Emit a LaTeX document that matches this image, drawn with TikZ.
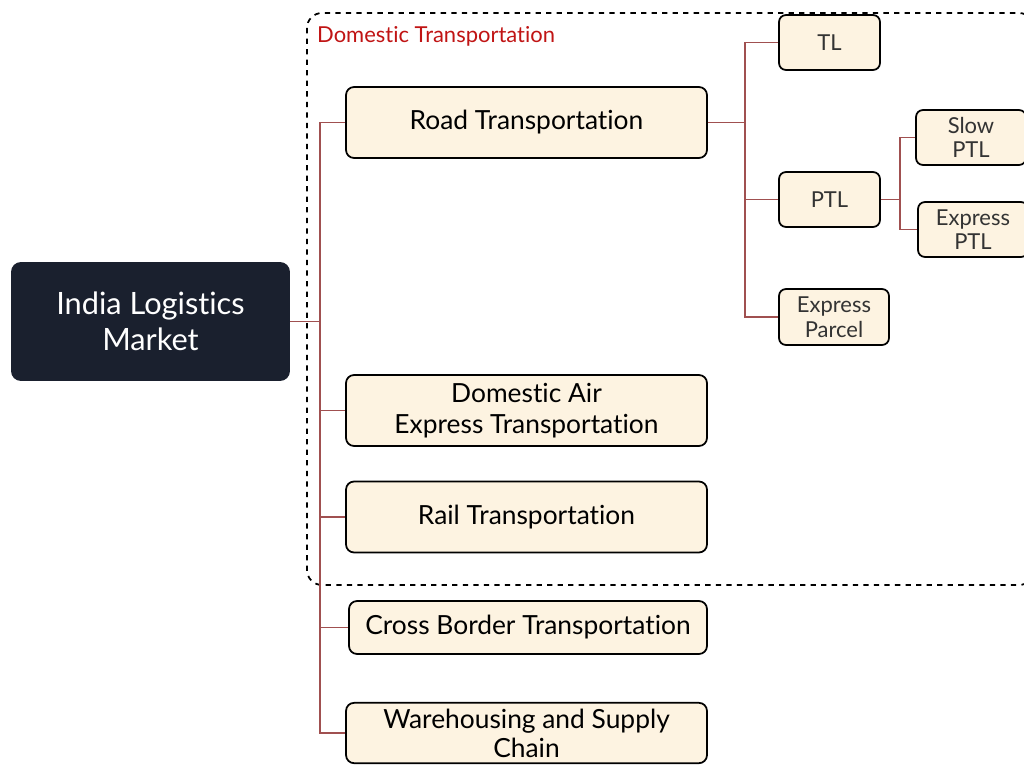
\documentclass[tikz,border=0pt]{standalone}
\usepackage{fontspec}
\setmainfont{Lato}[Ligatures=NoCommon]
\usepackage{tikz}
\usetikzlibrary{positioning}

\definecolor{rootfill}{RGB}{26,32,46}
\definecolor{boxfill}{RGB}{253,243,225}
\definecolor{linkred}{RGB}{160,80,80}
\definecolor{labelred}{RGB}{192,20,20}

\begin{document}
\begin{tikzpicture}[
            x=0.02cm, y=-0.02cm,
            rootbox/.style={rectangle, rounded corners=0.2cm, fill=rootfill, text=white, minimum width=5.58cm, minimum height=2.38cm, align=center, font=\fontsize{17.5}{20.5}\selectfont},
            bigbox/.style={rectangle, draw, line width=1pt, rounded corners=0.16cm, fill=boxfill, minimum width=7.22cm, minimum height=1.42cm, align=center, font=\fontsize{15}{18}\selectfont},
            smallbox/.style={rectangle, draw, line width=1pt, rounded corners=0.14cm, fill=boxfill, minimum width=2.02cm, minimum height=1.1cm, align=center, inner sep=1pt, font=\fontsize{12.5}{14}\selectfont, text=black!80},
            link/.style={draw=linkred, line width=0.6pt},
            group/.style={draw, dashed, line width=1pt, rounded corners=0.3cm}
        ]
        \useasboundingbox (0,0) rectangle (1024,764);
        % Root
        \node[rootbox] (root) at (150.5,321.5) {India Logistics\\Market};
        % Domestic group
        \draw[group] (307,13) rectangle (1034,585);
        \node[anchor=west, text=labelred, font=\fontsize{12.5}{14}\selectfont] (grouplabel) at (311,36) {Domestic Transportation};
        % First level
        \node[bigbox] (road) at (526.5,122.5) {Road Transportation};
        \node[bigbox] (air) at (526.5,410.5) {Domestic Air\\Express Transportation};
        \node[bigbox] (rail) at (526.5,517) {Rail Transportation};
        \node[bigbox, minimum width=7.16cm, minimum height=1.06cm] (cross) at (528,627.5) {Cross Border Transportation};
        \node[bigbox, minimum height=1.2cm, font=\fontsize{15}{16.5}\selectfont] (ware) at (526.5,733) {Warehousing and Supply\\Chain};
        % Road modes
        \node[smallbox] (tl) at (829.5,42.5) {TL};
        \node[smallbox] (ptl) at (829.5,199.5) {PTL};
        \node[smallbox, minimum width=2.2cm, minimum height=1.12cm] (parcel) at (834,317) {Express\\Parcel};
        % PTL modes
        \node[smallbox, minimum width=2.2cm] (slow) at (971,137.5) {Slow\\PTL};
        \node[smallbox, minimum width=2.2cm] (exptl) at (973,229.5) {Express\\PTL};
        % Bus coordinates
        \coordinate (rootbus) at (320,0);
        \coordinate (roadbus) at (745,0);
        \coordinate (ptlbus) at (900,0);
        % Links
        \foreach \child in {road, air, rail, cross, ware}
            \draw[link] (root.east) -- (rootbus |- root.east) |- (\child.west);
        \foreach \child in {tl, ptl, parcel}
            \draw[link] (road.east) -- (roadbus |- road.east) |- (\child.west);
        \foreach \child in {slow, exptl}
            \draw[link] (ptl.east) -- (ptlbus |- ptl.east) |- (\child.west);
    \end{tikzpicture}
\end{document}
